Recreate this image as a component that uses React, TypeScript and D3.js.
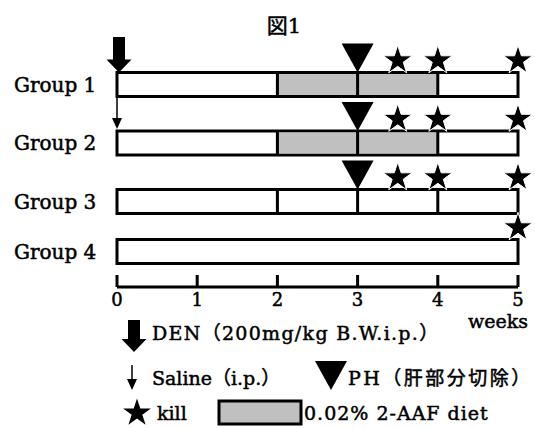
import * as d3 from 'd3';

const groups = ['Group 1', 'Group 2', 'Group 3', 'Group 4'];
const dividerWeeks = [[2, 3, 4], [2, 3, 4], [2, 3, 4], []];
const aafWeeks: ([number, number] | null)[] = [[2, 4], [2, 4], null, null];
const phWeek: (number | null)[] = [3, 3, 3, null];
const killWeeks = [[3.5, 4, 5], [3.5, 4, 5], [3.5, 4, 5], [5]];
const weekTicks = [0, 1, 2, 3, 4, 5];

const W = 535;
const H = 428;
const FONT = '"DejaVu Serif", "Noto Sans CJK JP", serif';
const GRAY = '#c0c0c0';
const thick = { stroke: '#000', strokeWidth: 0.5 };

function bigArrow(cx: number, top: number, tip: number) {
  const headTop = tip - 13;
  return `M${cx - 6},${top}H${cx + 6}V${headTop}H${cx + 12.5}L${cx},${tip}L${cx - 12.5},${headTop}H${cx - 6}Z`;
}

function thinHead(cx: number, tip: number) {
  return `M${cx - 5},${tip - 11}L${cx + 5},${tip - 11}L${cx},${tip}Z`;
}

function triangle(cx: number, tip: number) {
  return `M${cx - 16},${tip - 29}H${cx + 16}L${cx},${tip}Z`;
}

export default function App() {
  const x = d3.scaleLinear().domain([0, 5]).range([117, 518]);
  // rows that carry a PH marker above need a little more room
  const gaps = groups.map((_, i) => (i === 0 ? 0 : 50 + (phWeek[i] !== null ? 8.5 : 0)));
  const offsets = Array.from(d3.cumsum(gaps));
  const y = (i: number) => 84.5 + offsets[i];
  const barH = 24;
  const star = d3.symbol(d3.symbolStar, 260)();
  const smallStar = d3.symbol(d3.symbolStar, 240)();
  const axisY = 287;

  return (
    <div style={{ position: 'absolute', left: 0, top: 0 }}>
      <svg width={W} height={H} style={{ display: 'block', background: '#fff' }}>
        <text x={284} y={33} textAnchor="middle" fontFamily={FONT} fontSize={21} {...thick}>図1</text>

        {groups.map((g, i) => {
          const cy = y(i);
          const top = cy - barH / 2;
          const aaf = aafWeeks[i];
          const ph = phWeek[i];
          return (
            <g key={g}>
              <text x={14} y={cy + 7} fontFamily={FONT} fontSize={20} {...thick}>{g}</text>
              <rect x={x(0)} y={top} width={x(5) - x(0)} height={barH}
                fill="#fff" stroke="#000" strokeWidth={3} />
              {aaf && (
                <rect x={x(aaf[0])} y={top + 1.5} width={x(aaf[1]) - x(aaf[0])} height={barH - 3}
                  fill={GRAY} />
              )}
              {dividerWeeks[i].map(w => (
                <line key={w} x1={x(w)} x2={x(w)} y1={top} y2={top + barH}
                  stroke="#000" strokeWidth={3} />
              ))}
              {ph !== null && <path d={triangle(x(ph), top)} fill="#000" />}
              {killWeeks[i].map(w => (
                <path key={w} d={star} transform={`translate(${x(w)},${top - 12})`}
                  fill="#000" stroke="#fff" strokeWidth={1} />
              ))}
            </g>
          );
        })}

        {/* DEN / saline injections */}
        <path d={bigArrow(x(0) + 2, 37, y(0) - barH / 2)} fill="#000" />
        <line x1={x(0)} x2={x(0)} y1={y(0) + barH / 2} y2={y(1) - barH / 2 - 8}
          stroke="#000" strokeWidth={1.5} />
        <path d={thinHead(x(0), y(1) - barH / 2 - 2)} fill="#000" />

        {/* time axis */}
        <line x1={x(0)} x2={x(5)} y1={axisY} y2={axisY} stroke="#000" strokeWidth={3} />
        {weekTicks.map(t => (
          <g key={t}>
            <line x1={x(t)} x2={x(t)} y1={axisY - 12} y2={axisY} stroke="#000" strokeWidth={3} />
            <text x={x(t)} y={axisY + 19} textAnchor="middle" fontFamily={FONT} fontSize={18} {...thick}>{t}</text>
          </g>
        ))}
        <text x={528} y={328} textAnchor="end" fontFamily={FONT} fontSize={19} {...thick}>weeks</text>

        {/* legend */}
        <path d={bigArrow(134, 320, 352)} fill="#000" />
        <text x={152} y={340} fontFamily={FONT} fontSize={19} letterSpacing={1.3} {...thick}>DEN（200mg/kg B.W.i.p.）</text>

        <line x1={132} x2={132} y1={365} y2={383} stroke="#000" strokeWidth={1.5} />
        <path d={thinHead(132, 390)} fill="#000" />
        <text x={152} y={385} fontFamily={FONT} fontSize={19} {...thick}>Saline（i.p.）</text>

        <path d={triangle(331, 390)} fill="#000" />
        <text x={348} y={385} fontFamily={FONT} fontSize={19} letterSpacing={2.5} {...thick}>PH（肝部分切除）</text>

        <path d={smallStar} transform="translate(137,413)" fill="#000" />
        <text x={157} y={420} fontFamily={FONT} fontSize={19} {...thick}>kill</text>
        <rect x={219} y={401} width={82} height={23} fill={GRAY} stroke="#000" strokeWidth={3} />
        <text x={304} y={420} fontFamily={FONT} fontSize={19} letterSpacing={1} {...thick}>0.02% 2-AAF diet</text>
      </svg>
    </div>
  );
}
